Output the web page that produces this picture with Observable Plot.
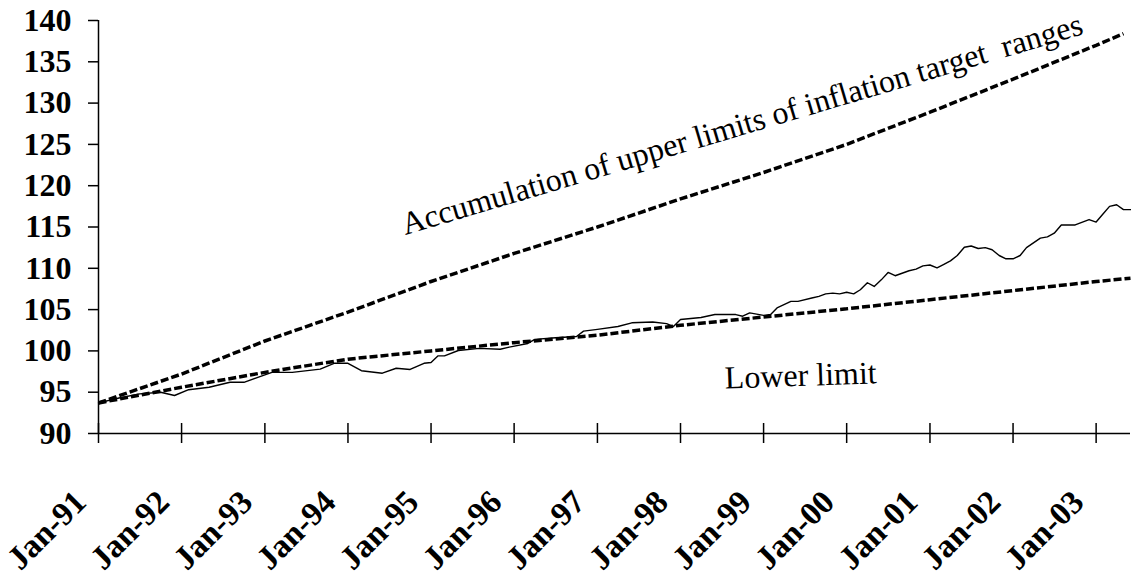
<!DOCTYPE html>
<html>
<head>
<meta charset="utf-8">
<script src="https://cdn.jsdelivr.net/npm/d3@7"></script>
<script src="https://cdn.jsdelivr.net/npm/@observablehq/plot@0.6"></script>
<style>
  body { margin: 0; background: #fff; }
  #chart svg, #chart svg text { font-family: "Liberation Serif", "Times New Roman", serif !important; }
  svg text { white-space: pre; }
</style>
</head>
<body>
<div id="chart"></div>
<script>
// Months counted from Jan-1991
const actualMonths = [0,3,6,9,11,13,16,19,21,23,25,28,32,34,36,38,41,43,45,47,48,49,50,52,55,58,59,62,63,66,69,70,72,75,77,80,82,83,84,87,89,92,93,94,96,97,98,100,101,103,104,105,106,107,108,109,110,111,112,113,114,115,117,118,119,120,121,122,123,124,125,126,127,128,129,130,131,132,133,134,136,137,138,139,141,143,144,145,146,147,148,149];
const actualValues = [93.7,94.3,94.8,95.0,94.6,95.3,95.6,96.2,96.2,96.8,97.4,97.4,97.8,98.5,98.5,97.6,97.3,97.9,97.75,98.5,98.6,99.4,99.4,100.05,100.3,100.2,100.4,100.9,101.4,101.6,101.75,102.4,102.6,102.95,103.4,103.5,103.3,102.95,103.8,104.05,104.4,104.4,104.2,104.6,104.3,104.4,105.2,106.0,106.0,106.4,106.6,106.9,107.0,106.9,107.1,106.9,107.4,108.25,107.8,108.6,109.5,109.1,109.7,109.9,110.3,110.4,110.05,110.45,110.9,111.55,112.55,112.7,112.4,112.5,112.25,111.55,111.15,111.15,111.55,112.5,113.65,113.8,114.25,115.25,115.25,115.9,115.6,116.6,117.5,117.7,117.1,117.1];

const upperMonths = [0,12,24,36,48,60,72,84,96,108,120,132,144,148];
const upperValues = [93.7,97.2,101.2,104.7,108.4,111.8,115.0,118.4,121.6,125.0,128.9,132.9,137.0,138.4];

const lowerMonths = [0,12,24,36,48,60,72,84,96,108,120,132,144,149];
const lowerValues = [93.7,95.6,97.4,99.0,100.0,101.0,101.9,103.1,104.1,105.1,106.2,107.3,108.4,108.8];

const xTickLabels = ["Jan-91","Jan-92","Jan-93","Jan-94","Jan-95","Jan-96","Jan-97","Jan-98","Jan-99","Jan-00","Jan-01","Jan-02","Jan-03"];
const yTicks = [90,95,100,105,110,115,120,125,130,135,140];

const upperLabel = "Accumulation of upper limits of inflation target  ranges";
const lowerLabel = "Lower limit";

const serif = "Liberation Serif";
const toDate = m => new Date(Date.UTC(1991, Math.floor(m), 1 + Math.round((m - Math.floor(m)) * 30)));
const series = (ms, vs) => ms.map((m, i) => ({date: toDate(m), value: vs[i]}));
const actual = series(actualMonths, actualValues);
const upper = series(upperMonths, upperValues);
const lower = series(lowerMonths, lowerValues);
const xTicks = xTickLabels.map((_, i) => toDate(i * 12));
const labelOf = new Map(xTicks.map((d, i) => [+d, xTickLabels[i]]));

const dashed = {stroke: "#000", strokeWidth: 3.5, strokeDasharray: "8,3", strokeLinecap: "butt", strokeLinejoin: "miter"};

const chart = Plot.plot({
  width: 1131,
  height: 576,
  marginLeft: 98,
  marginRight: 1,
  marginTop: 20,
  marginBottom: 143,
  style: {fontFamily: serif, background: "#fff", color: "#000"},
  x: {type: "utc", domain: [toDate(0), toDate(149)]},
  y: {domain: [yTicks[0], yTicks[yTicks.length - 1]]},
  marks: [
    Plot.line(actual, {x: "date", y: "value", stroke: "#000", strokeWidth: 1.4}),
    Plot.line(lower, {x: "date", y: "value", ...dashed}),
    Plot.line(upper, {x: "date", y: "value", ...dashed}),
    Plot.ruleY([yTicks[0]], {stroke: "#000", strokeWidth: 1.5}),
    Plot.ruleX([toDate(0)], {stroke: "#000", strokeWidth: 1.5}),
    Plot.axisY({ticks: yTicks, tickSize: 10, tickPadding: 17, fontSize: 32, fontWeight: "bold", fontFamily: serif, label: null, strokeWidth: 1.5}),
    Plot.axisX({ticks: xTicks, tickSize: 20, dy: -10, fill: "none", label: null, strokeWidth: 1.5}),
    Plot.axisX({ticks: xTicks, tickSize: 0, tickPadding: 63, dx: -18, tickRotate: -45,
      textAnchor: "end", lineAnchor: "middle", fontSize: 33, fontWeight: "bold", fontFamily: serif, label: null,
      tickFormat: d => labelOf.get(+d)}),
    Plot.text([upperLabel], {x: toDate(92.9), y: 127.4, text: d => d, rotate: -16.5, fontSize: 32, fontFamily: serif, fill: "#000"}),
    Plot.text([lowerLabel], {x: toDate(101.4), y: 97.0, text: d => d, rotate: -2, fontSize: 32, fontFamily: serif, fill: "#000"})
  ]
});
d3.select(chart).attr("font-family", serif).selectAll("text").attr("font-family", serif);
document.getElementById("chart").appendChild(chart);
</script>
</body>
</html>
